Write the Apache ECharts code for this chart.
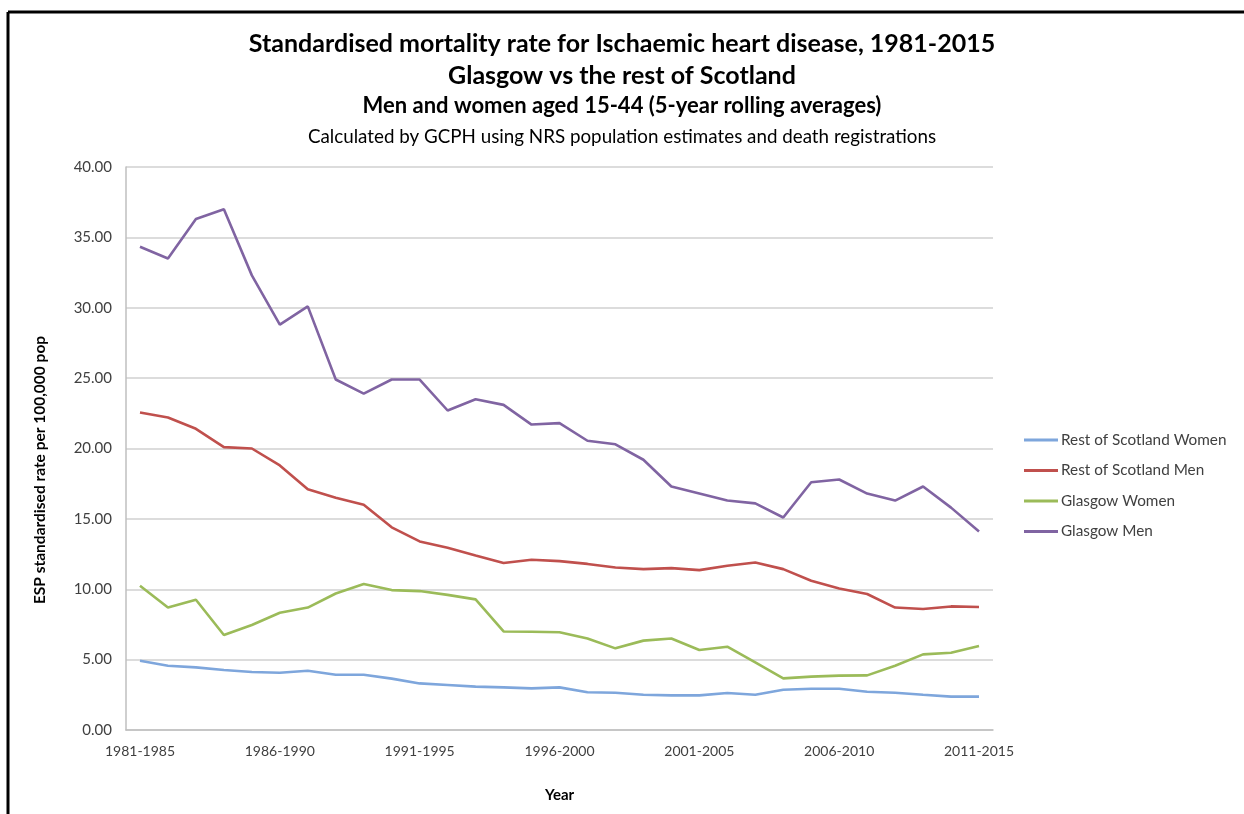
<!DOCTYPE html>
<html>
<head>
<meta charset="utf-8">
<script src="https://cdn.jsdelivr.net/npm/echarts@6/dist/echarts.min.js"></script>
<style>
html,body{margin:0;padding:0;background:#fff;}
#c{width:1244px;height:814px;}
</style>
</head>
<body>
<div id="c"></div>
<script>
const categories = ["1981-1985","1982-1986","1983-1987","1984-1988","1985-1989","1986-1990","1987-1991","1988-1992","1989-1993","1990-1994","1991-1995","1992-1996","1993-1997","1994-1998","1995-1999","1996-2000","1997-2001","1998-2002","1999-2003","2000-2004","2001-2005","2002-2006","2003-2007","2004-2008","2005-2009","2006-2010","2007-2011","2008-2012","2009-2013","2010-2014","2011-2015"];
const restWomen = [4.92,4.57,4.45,4.26,4.12,4.07,4.21,3.93,3.93,3.65,3.31,3.20,3.08,3.03,2.96,3.03,2.68,2.65,2.50,2.46,2.46,2.63,2.50,2.86,2.93,2.93,2.72,2.65,2.50,2.37,2.37];
const restMen = [22.56,22.2,21.4,20.1,20.0,18.8,17.1,16.5,16.0,14.4,13.4,12.95,12.4,11.86,12.1,12.0,11.8,11.55,11.43,11.5,11.36,11.67,11.9,11.43,10.6,10.06,9.66,8.7,8.6,8.78,8.74];
const glasgowWomen = [10.25,8.7,9.25,6.75,7.46,8.33,8.7,9.7,10.37,9.94,9.87,9.6,9.28,7.0,6.98,6.95,6.5,5.8,6.35,6.5,5.68,5.92,4.8,3.67,3.79,3.86,3.88,4.57,5.37,5.49,5.97];
const glasgowMen = [34.33,33.5,36.3,37.0,32.3,28.8,30.1,24.9,23.9,24.9,24.9,22.7,23.5,23.1,21.7,21.8,20.55,20.3,19.2,17.3,16.8,16.3,16.1,15.1,17.6,17.8,16.8,16.3,17.3,15.8,14.1];
const seriesNames = ["Rest of Scotland Women","Rest of Scotland Men","Glasgow Women","Glasgow Men"];
const titleLines = ["Standardised mortality rate for Ischaemic heart disease, 1981-2015","Glasgow vs the rest of Scotland","Men and women aged 15-44 (5-year rolling averages)","Calculated by GCPH using NRS population estimates and death registrations"];
const xAxisTitle = "Year";
const yAxisTitle = "ESP standardised rate per 100,000 pop";

const colors = ["#7EA6DC","#C0504D","#9BBB59","#8064A2"];
const dataSets = [restWomen, restMen, glasgowWomen, glasgowMen];
const FONT = "Lato, 'Open Sans', sans-serif";

const chart = echarts.init(document.getElementById('c'), null, {renderer:'canvas'});
chart.setOption({
  backgroundColor: '#fff',
  animation: false,
  title: [
    {text: titleLines[0], left: 'center', top: 26.5, textStyle:{fontFamily:FONT, fontSize:25, fontWeight:'bold', color:'#000'}},
    {text: titleLines[1], left: 'center', top: 58.5, textStyle:{fontFamily:FONT, fontSize:25, fontWeight:'bold', color:'#000'}},
    {text: titleLines[2], left: 'center', top: 90, textStyle:{fontFamily:FONT, fontSize:22, fontWeight:'bold', color:'#000'}},
    {text: titleLines[3], left: 'center', top: 122.5, textStyle:{fontFamily:FONT, fontSize:18.8, fontWeight:'normal', color:'#000'}}
  ],
  graphic: [
    {type:'line', shape:{x1:8, y1:12, x2:1244, y2:12}, style:{stroke:'#000', lineWidth:3}},
    {type:'line', shape:{x1:8, y1:12, x2:8, y2:814}, style:{stroke:'#000', lineWidth:3}},
    {type:'text', x:40, y:470, rotation: Math.PI/2,
      style:{text: yAxisTitle, fontFamily:FONT, fontSize:15.5, fontWeight:'bold', fill:'#000', align:'center', verticalAlign:'middle'}}
  ],
  legend: {
    orient: 'vertical',
    left: 1024,
    top: 432,
    padding: 0,
    itemWidth: 34,
    itemHeight: 3,
    itemGap: 14.5,
    icon: 'path://M0,0 L34,0 L34,3 L0,3 Z',
    data: seriesNames,
    textStyle: {fontFamily:FONT, fontSize:15.3, color:'#404040', lineHeight:16, padding:[0,0,0,-2]}
  },
  grid: {left:126, right:251, top:167, bottom:84, containLabel:false},
  xAxis: {
    type: 'category',
    data: categories,
    boundaryGap: true,
    name: xAxisTitle,
    nameLocation: 'middle',
    nameGap: 58,
    nameTextStyle: {fontFamily:FONT, fontSize:15, fontWeight:'bold', color:'#000'},
    axisLine: {show:true, lineStyle:{color:'#BFBFBF', width:1.5}},
    axisTick: {show:false},
    axisLabel: {
      interval: function(i){ return i % 5 === 0; },
      fontFamily: FONT, fontSize: 14, color:'#404040', margin: 14
    },
    splitLine: {show:false}
  },
  yAxis: {
    type: 'value',
    min: 0, max: 40, interval: 5,
    axisLine: {show:true, lineStyle:{color:'#BFBFBF', width:1.5}},
    axisTick: {show:false},
    axisLabel: {
      formatter: function(v){ return v.toFixed(2); },
      fontFamily: FONT, fontSize: 15, color:'#404040', margin: 14
    },
    splitLine: {show:true, lineStyle:{color:'#D0D0D0', width:1.5}}
  },
  series: seriesNames.map(function(n, i){
    return {
      name: n,
      type: 'line',
      data: dataSets[i],
      symbol: 'none',
      showSymbol: false,
      smooth: false,
      color: colors[i],
      lineStyle: {color: colors[i], width: 2.6},
      z: 2 + i
    };
  })
});
</script>
</body>
</html>
